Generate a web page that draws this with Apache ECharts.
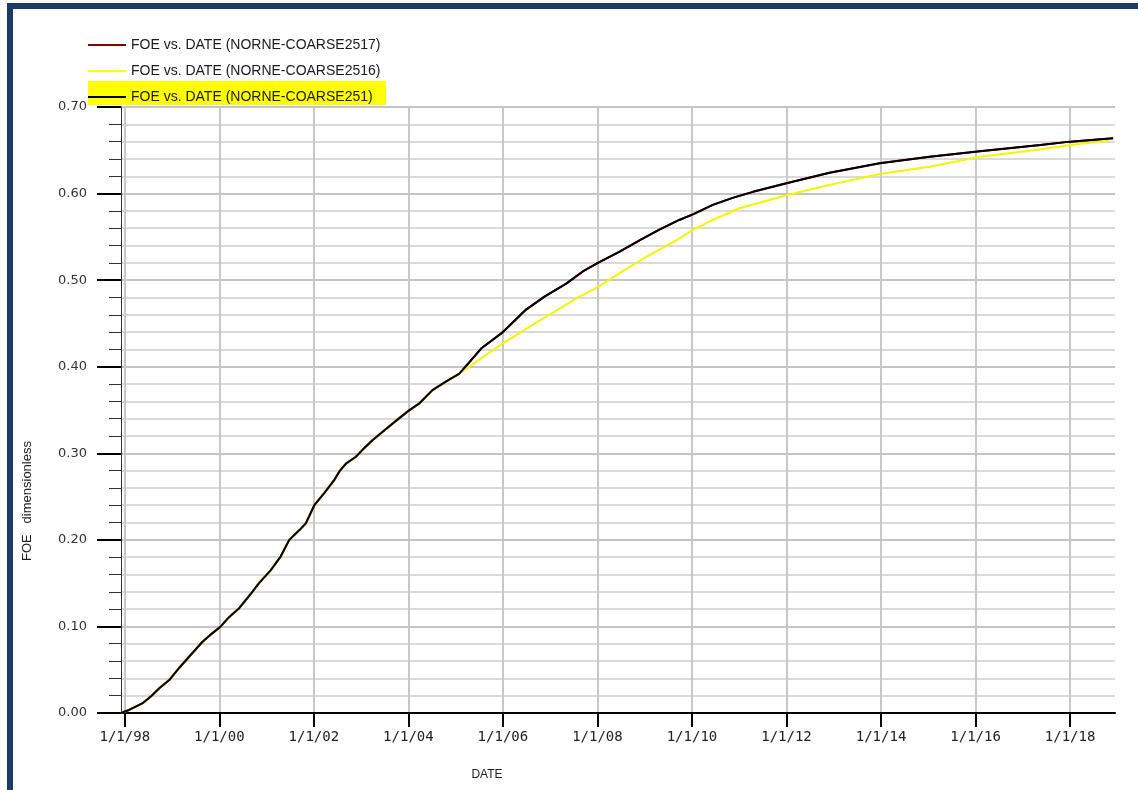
<!DOCTYPE html>
<html>
<head>
<meta charset="utf-8">
<script src="https://cdn.jsdelivr.net/npm/echarts@6/dist/echarts.min.js"></script>
<style>
  html, body { margin: 0; padding: 0; background: #ffffff; }
  #chart { width: 1138px; height: 790px; }
</style>
</head>
<body>
<div id="chart"></div>
<script>
// ---- Data (dates as decimal years) ----
const seriesNames = [
  'FOE vs. DATE (NORNE-COARSE2517)',
  'FOE vs. DATE (NORNE-COARSE2516)',
  'FOE vs. DATE (NORNE-COARSE251)'
];
const tickYears = [1998, 2000, 2002, 2004, 2006, 2008, 2010, 2012, 2014, 2016, 2018];
const yTicks = [0.0, 0.1, 0.2, 0.3, 0.4, 0.5, 0.6, 0.7];

// common history (all cases identical until ~2005)
const histDates = [1997.92, 1998.09, 1998.37, 1998.55, 1998.73, 1998.94, 1999.15, 1999.36, 1999.64, 1999.85,
  2000.03, 2000.21, 2000.42, 2000.67, 2000.84, 2001.09, 2001.30, 2001.48, 2001.69, 2001.83,
  2002.01, 2002.22, 2002.43, 2002.54, 2002.68, 2002.89, 2003.03, 2003.24, 2003.50, 2003.75,
  2004.00, 2004.24, 2004.51, 2004.80, 2005.08];
const histFoe = [0.000, 0.0035, 0.011, 0.019, 0.0285, 0.038, 0.052, 0.065, 0.082, 0.092,
  0.100, 0.111, 0.121, 0.138, 0.150, 0.165, 0.181, 0.200, 0.211, 0.219,
  0.240, 0.254, 0.269, 0.279, 0.288, 0.296, 0.304, 0.315, 0.327, 0.338,
  0.349, 0.358, 0.373, 0.383, 0.392];

// NORNE-COARSE251 (black) after divergence
const dates251 = [2005.54, 2006.00, 2006.49, 2006.88, 2007.34, 2007.69, 2008.01, 2008.47, 2008.89, 2009.30,
  2009.73, 2010.02, 2010.44, 2010.86, 2011.29, 2012.00, 2012.91, 2013.97, 2015.03, 2016.09,
  2017.37, 2018.00, 2018.91];
const foe251 = [0.421, 0.440, 0.466, 0.481, 0.496, 0.510, 0.520, 0.533, 0.546, 0.558,
  0.5695, 0.576, 0.587, 0.595, 0.602, 0.612, 0.624, 0.635, 0.6426, 0.649,
  0.656, 0.660, 0.664];

// NORNE-COARSE2516 (yellow) after divergence
const dates2516 = [2005.64, 2006.00, 2006.56, 2007.20, 2007.62, 2008.01, 2008.47, 2009.03, 2009.67, 2010.02,
  2010.44, 2011.00, 2012.00, 2012.91, 2013.97, 2015.03, 2016.09, 2017.37, 2018.00, 2018.82];
const foe2516 = [0.4135, 0.427, 0.446, 0.467, 0.481, 0.492, 0.508, 0.527, 0.546, 0.558,
  0.5695, 0.583, 0.598, 0.610, 0.6226, 0.631, 0.6426, 0.651, 0.656, 0.661];

// NORNE-COARSE2517 (dark red) — hidden under the black curve
const dates2517 = dates251;
const foe2517 = foe251;

function pairs(xs, ys) { return xs.map((x, i) => [x, ys[i]]); }
const data2517 = pairs(histDates.concat(dates2517), histFoe.concat(foe2517));
const data2516 = pairs(histDates.concat(dates2516), histFoe.concat(foe2516));
const data251 = pairs(histDates.concat(dates251), histFoe.concat(foe251));

const chart = echarts.init(document.getElementById('chart'), null, { renderer: 'canvas' });

const option = {
  animation: false,
  backgroundColor: '#ffffff',
  grid: { left: 121, right: 23, top: 107, bottom: 77 },
  graphic: [
    { type: 'rect', shape: { x: 7, y: 3, width: 1131, height: 6 }, style: { fill: '#1d3a63' }, z: 100 },
    { type: 'rect', shape: { x: 7, y: 3, width: 6, height: 787 }, style: { fill: '#1d3a63' }, z: 100 },
    { type: 'rect', shape: { x: 88, y: 81, width: 298, height: 24 }, style: { fill: '#ffff00' }, z: 0 },
    { type: 'text', x: 27, y: 501, rotation: Math.PI / 2,
      style: { text: 'FOE   dimensionless', font: '13px "Liberation Sans"', fill: '#222222',
               textAlign: 'center', textVerticalAlign: 'middle' } },
    { type: 'text', x: 487, y: 775,
      style: { text: 'DATE', font: '12px "Liberation Sans"', fill: '#222222',
               textAlign: 'center', textVerticalAlign: 'middle' } }
  ],
  legend: {
    orient: 'vertical',
    left: 88,
    top: 37,
    itemGap: 10,
    itemWidth: 38,
    itemHeight: 2,
    icon: 'rect',
    padding: 0,
    selectedMode: false,
    data: seriesNames,
    textStyle: { fontFamily: 'Liberation Sans', fontSize: 14, color: '#1a1a1a', lineHeight: 16 }
  },
  xAxis: {
    type: 'value',
    min: 1997.92,
    max: 2018.95,
    axisLine: { show: true, onZero: false, lineStyle: { color: '#000000', width: 2 } },
    axisTick: { show: true, customValues: tickYears, length: 14, lineStyle: { color: '#000000', width: 2 } },
    axisLabel: {
      show: true,
      customValues: tickYears,
      margin: 17,
      fontFamily: 'DejaVu Sans Mono',
      fontSize: 14,
      color: '#222222',
      formatter: v => '1/1/' + String(Math.round(v) % 100).padStart(2, '0')
    },
    splitLine: { show: true, lineStyle: { color: '#c8c8c8', width: 2 } },
    minorTick: { show: false },
    minorSplitLine: { show: false }
  },
  yAxis: {
    type: 'value',
    min: yTicks[0],
    max: yTicks[yTicks.length - 1],
    interval: 0.1,
    axisLine: { show: true, onZero: false, lineStyle: { color: '#333333', width: 1 } },
    axisTick: { show: true, length: 24, lineStyle: { color: '#000000', width: 2 } },
    minorTick: { show: true, splitNumber: 5, length: 12, lineStyle: { color: '#333333', width: 1 } },
    axisLabel: {
      margin: 34,
      fontFamily: 'DejaVu Sans',
      fontSize: 13,
      color: '#333333',
      formatter: v => v.toFixed(2)
    },
    splitLine: { show: true, lineStyle: { color: '#c4c4c4', width: 2 } },
    minorSplitLine: { show: true, lineStyle: { color: '#dadada', width: 2 } }
  },
  series: [
    { name: seriesNames[0], type: 'line', data: data2517, showSymbol: false, symbol: 'none',
      itemStyle: { color: '#8b0000' }, lineStyle: { color: '#8b0000', width: 2 } },
    { name: seriesNames[1], type: 'line', data: data2516, showSymbol: false, symbol: 'none',
      itemStyle: { color: '#ffff00' }, lineStyle: { color: '#f5f500', width: 2 } },
    { name: seriesNames[2], type: 'line', data: data251, showSymbol: false, symbol: 'none',
      itemStyle: { color: '#000000' }, lineStyle: { color: '#000000', width: 2 } }
  ]
};
chart.setOption(option);
</script>
</body>
</html>
